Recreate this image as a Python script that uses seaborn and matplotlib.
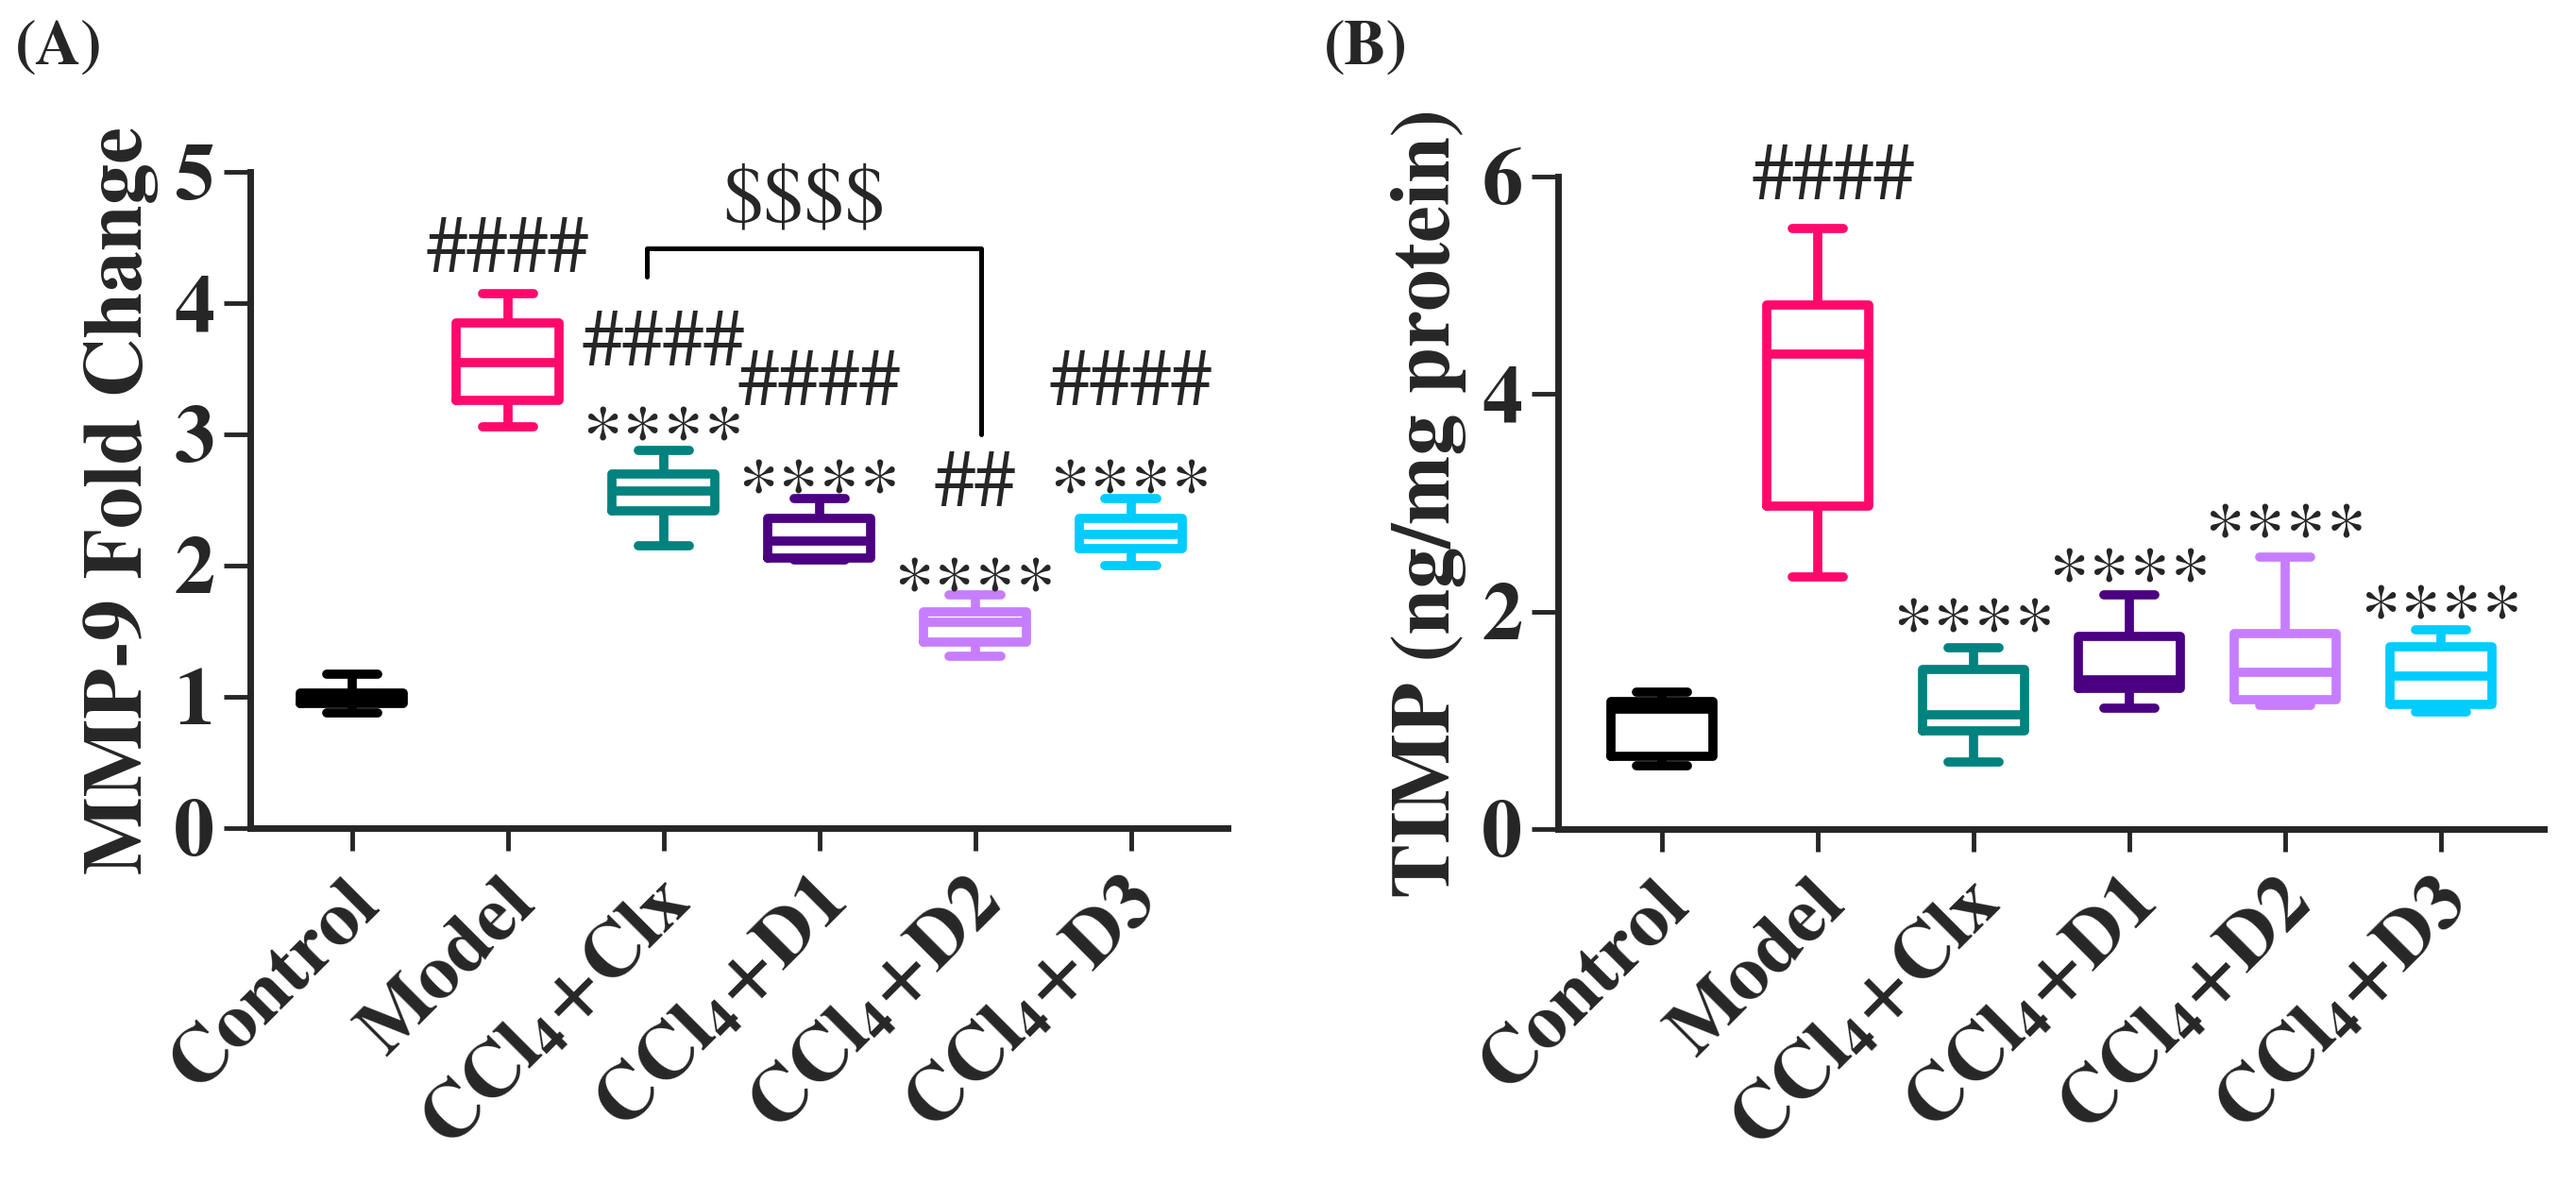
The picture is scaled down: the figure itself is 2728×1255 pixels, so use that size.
import pandas as pd
import matplotlib
matplotlib.use("Agg")
import matplotlib.pyplot as plt
import matplotlib.transforms as mtransforms
import seaborn as sns

# groups and colours
groups = ["Control", "Model", "CCl4+Clx", "CCl4+D1", "CCl4+D2", "CCl4+D3"]
tick_labels = ["Control", "Model",
               r"CCl$_{\mathbf{4}}$+Clx", r"CCl$_{\mathbf{4}}$+D1",
               r"CCl$_{\mathbf{4}}$+D2", r"CCl$_{\mathbf{4}}$+D3"]
colors = ["#000000", "#FF0A6C", "#00827F", "#4B0082", "#C77DFF", "#00CCFF"]

# box values: min, q1, median, q3, max
mmp9_control = [0.88, 0.95, 1.00, 1.03, 1.17]
mmp9_model = [3.06, 3.26, 3.55, 3.85, 4.07]
mmp9_clx = [2.15, 2.42, 2.57, 2.70, 2.88]
mmp9_d1 = [2.04, 2.06, 2.19, 2.36, 2.51]
mmp9_d2 = [1.31, 1.42, 1.57, 1.65, 1.78]
mmp9_d3 = [2.00, 2.13, 2.24, 2.36, 2.51]

timp_control = [0.58, 0.67, 1.10, 1.17, 1.26]
timp_model = [2.32, 2.97, 4.37, 4.82, 5.52]
timp_clx = [0.62, 0.90, 1.05, 1.47, 1.67]
timp_d1 = [1.11, 1.29, 1.37, 1.77, 2.15]
timp_d2 = [1.14, 1.19, 1.44, 1.80, 2.50]
timp_d3 = [1.08, 1.15, 1.41, 1.68, 1.83]

# significance marks (y = where the text is placed)
mmp9_hash = ["", "####", "####", "####", "##", "####"]
mmp9_hash_y = [0, 4.38, 3.67, 3.37, 2.60, 3.37]
mmp9_star = ["", "", "****", "****", "****", "****"]
mmp9_star_y = [0, 0, 2.93, 2.53, 1.78, 2.53]
timp_hash = ["", "####", "", "", "", ""]
timp_hash_y = [0, 5.97, 0, 0, 0, 0]
timp_star = ["", "", "****", "****", "****", "****"]
timp_star_y = [0, 0, 1.79, 2.25, 2.65, 1.91]


def long_df(series):
    rows = []
    for g, vals in zip(groups, series):
        for v in vals:
            rows.append({"group": g, "value": v})
    return pd.DataFrame(rows)


df_a = long_df([mmp9_control, mmp9_model, mmp9_clx, mmp9_d1, mmp9_d2, mmp9_d3])
df_b = long_df([timp_control, timp_model, timp_clx, timp_d1, timp_d2, timp_d3])

sns.set_style("ticks")
plt.rcParams["font.family"] = ["STIXGeneral", "DejaVu Serif"]
plt.rcParams["mathtext.fontset"] = "stix"

fig = plt.figure(figsize=(27.28, 12.55), dpi=100)
ax_a = fig.add_axes([0.0971, 0.3012, 0.3794, 0.5538])
ax_b = fig.add_axes([0.6048, 0.3004, 0.3827, 0.5506])

palette = dict(zip(groups, colors))


def draw_panel(ax, df, ylim, yticks, ylabel, xlim):
    sns.boxplot(data=df, x="group", y="value", hue="group", order=groups,
                hue_order=groups, palette=palette, fill=False, width=0.66,
                linewidth=7, whis=(0, 100), legend=False, ax=ax)
    ax.set_xlim(*xlim)
    ax.set_ylim(*ylim)
    ax.set_yticks(yticks)
    ax.set_xlabel("")
    ax.set_ylabel(ylabel, fontsize=63, fontweight="bold", labelpad=12)
    sns.despine(ax=ax)
    for s in ["left", "bottom"]:
        ax.spines[s].set_linewidth(5)
    ax.tick_params(axis="x", length=17, width=3.5, pad=8)
    ax.tick_params(axis="y", length=20, width=3.5, pad=7)
    ax.set_xticks(range(len(groups)))
    ax.set_xticklabels(tick_labels, rotation=45, ha="right",
                       rotation_mode="anchor", fontsize=60, fontweight="bold")
    # tick_params resets label transforms, so the shift comes after it
    offset = mtransforms.ScaledTranslation(-0.08, -0.08, fig.dpi_scale_trans)
    for lab in ax.get_xticklabels():
        lab.set_transform(lab.get_transform() + offset)
    for lab in ax.get_yticklabels():
        lab.set_fontsize(62)
        lab.set_fontweight("bold")


draw_panel(ax_a, df_a, (0, 5), [0, 1, 2, 3, 4, 5], "MMP-9 Fold Change", (-0.655, 5.62))
draw_panel(ax_b, df_b, (0, 6), [0, 2, 4, 6], "TIMP (ng/mg protein)", (-0.667, 5.66))

for i in range(len(groups)):
    if mmp9_hash[i]:
        ax_a.text(i, mmp9_hash_y[i], mmp9_hash[i], ha="center", va="center", fontsize=62)
    if mmp9_star[i]:
        ax_a.text(i, mmp9_star_y[i], mmp9_star[i], ha="center", va="center", fontsize=62)
    if timp_hash[i]:
        ax_b.text(i + 0.1, timp_hash_y[i], timp_hash[i], ha="center", va="center", fontsize=62)
    if timp_star[i]:
        ax_b.text(i, timp_star_y[i], timp_star[i], ha="center", va="center", fontsize=62)

# bracket Clx vs D2
ax_a.plot([1.89, 1.89, 4.04, 4.04], [4.2, 4.42, 4.42, 3.0], color="black", lw=3.6,
          clip_on=False)
ax_a.text(2.9, 4.76, r"\$\$\$\$", ha="center", va="center", fontsize=62)

fig.text(0.006, 0.958, "(A)", fontsize=48, fontweight="bold", va="center")
fig.text(0.514, 0.958, "(B)", fontsize=48, fontweight="bold", va="center")

fig.savefig("out.png", dpi=100)
